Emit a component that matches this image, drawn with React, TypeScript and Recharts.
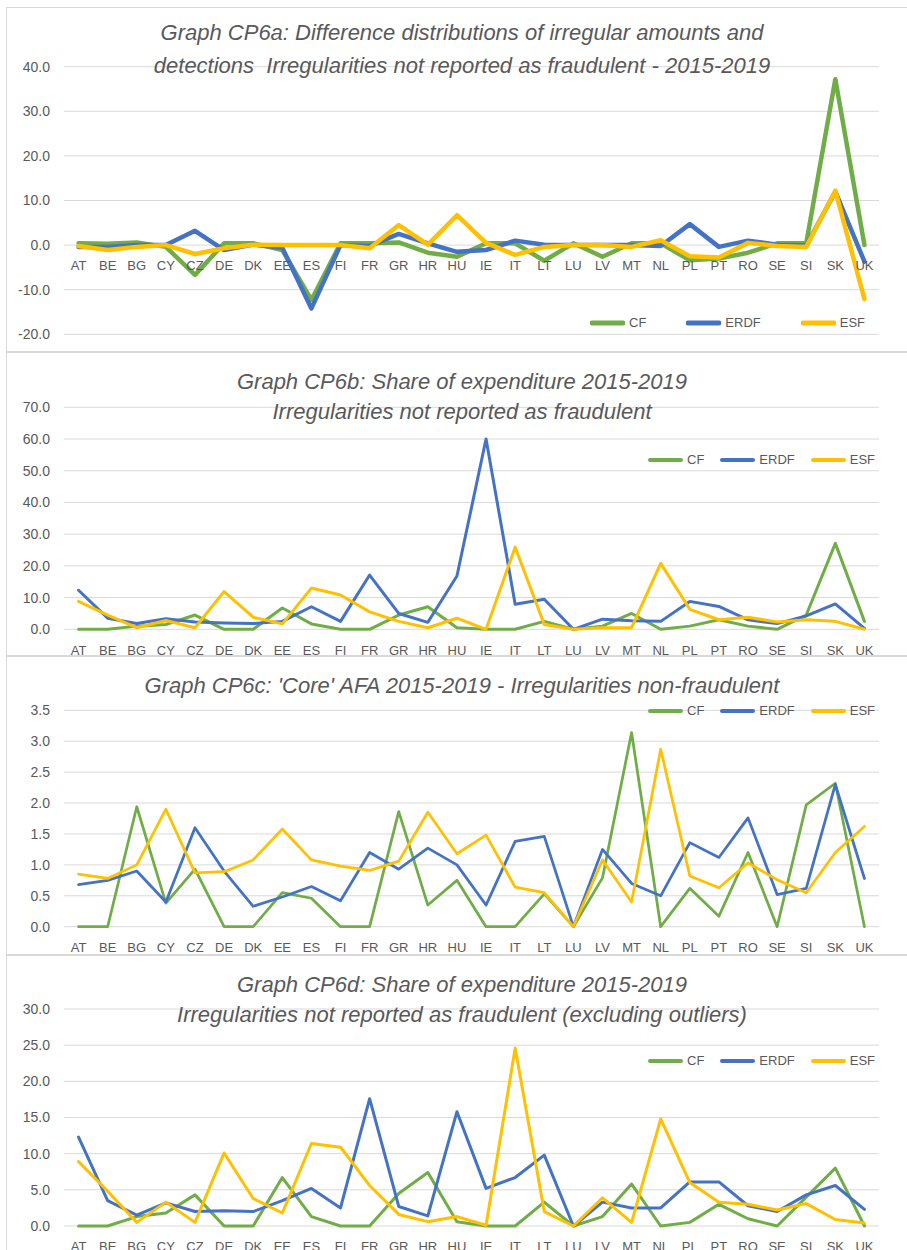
import React from 'react';
import { LineChart, Line, XAxis, YAxis, CartesianGrid, Legend } from 'recharts';

const FONT = '"Liberation Sans", Arial, sans-serif';
const TEXT = '#595959';
const GRID = '#d9d9d9';
const COLORS = { CF: '#70AD47', ERDF: '#4472C4', ESF: '#FFC000' };

const countries = ['AT', 'BE', 'BG', 'CY', 'CZ', 'DE', 'DK', 'EE', 'ES', 'FI', 'FR', 'GR', 'HR', 'HU', 'IE', 'IT', 'LT', 'LU', 'LV', 'MT', 'NL', 'PL', 'PT', 'RO', 'SE', 'SI', 'SK', 'UK'];

// Graph CP6a
const cp6aCF = [0.4, 0.3, 0.6, -0.4, -6.7, 0.4, 0.4, -1.1, -12.3, 0.4, 0.4, 0.6, -1.7, -2.6, 0.4, 0.4, -3.5, 0.4, -2.6, 0.4, 0.4, -3.4, -3.0, -1.7, 0.4, 0.4, 37.2, 0];
const cp6aERDF = [-0.4, -0.4, 0, 0, 3.2, -1.1, 0.1, -0.6, -14.2, 0, -0.2, 2.5, 0.4, -1.5, -1.1, 1.0, 0.1, 0, 0, 0, -0.2, 4.7, -0.4, 1.0, 0.1, -0.1, 12.0, -3.7];
const cp6aESF = [-0.2, -1.1, -0.4, 0, -2.0, -0.7, 0.1, 0, 0, 0, -0.7, 4.5, 0.1, 6.7, 0.5, -2.2, -0.4, 0, 0, -0.4, 1.1, -2.5, -2.8, 0.5, -0.2, -0.4, 12.2, -12.1];

// Graph CP6b
const cp6bCF = [0, 0, 1.0, 1.5, 4.5, 0, 0, 6.7, 1.7, 0, 0, 4.5, 7.1, 0.5, 0, 0, 2.5, 0, 1.0, 5.0, 0, 1.0, 3.0, 1.0, 0, 4.5, 27.1, 2.5];
const cp6bERDF = [12.3, 3.5, 1.8, 3.3, 2.3, 2.0, 1.8, 2.5, 7.1, 2.5, 17.1, 5.0, 2.2, 16.8, 60.0, 7.9, 9.5, 0, 3.2, 2.7, 2.5, 8.8, 7.2, 3.0, 1.8, 4.2, 8.0, 0.3];
const cp6bESF = [8.8, 4.5, 0.5, 2.8, 0.5, 11.9, 3.8, 1.7, 13.0, 10.8, 5.5, 2.5, 0.5, 3.5, 0, 25.9, 1.5, 0, 0.5, 0.5, 20.8, 6.3, 3.0, 3.8, 2.3, 3.0, 2.5, 0];

// Graph CP6c
const cp6cCF = [0, 0, 1.94, 0.38, 0.93, 0, 0, 0.55, 0.46, 0, 0, 1.86, 0.35, 0.75, 0, 0, 0.53, 0, 0.79, 3.14, 0, 0.62, 0.17, 1.2, 0, 1.97, 2.32, 0];
const cp6cERDF = [0.68, 0.75, 0.9, 0.4, 1.6, 0.9, 0.33, 0.48, 0.65, 0.42, 1.2, 0.93, 1.27, 1.0, 0.35, 1.38, 1.46, 0, 1.25, 0.7, 0.5, 1.36, 1.12, 1.76, 0.52, 0.62, 2.3, 0.78];
const cp6cESF = [0.85, 0.78, 1.0, 1.9, 0.87, 0.89, 1.08, 1.58, 1.08, 0.98, 0.91, 1.06, 1.85, 1.18, 1.48, 0.64, 0.55, 0, 1.08, 0.4, 2.87, 0.82, 0.63, 1.03, 0.76, 0.55, 1.2, 1.62];

// Graph CP6d
const cp6dCF = [0, 0, 1.3, 1.8, 4.3, 0, 0, 6.7, 1.3, 0, 0, 4.5, 7.4, 0.6, 0, 0, 3.3, 0, 1.3, 5.8, 0, 0.5, 3.0, 1.0, 0, 4.0, 8.0, 0];
const cp6dERDF = [12.3, 3.5, 1.5, 3.2, 2.0, 2.1, 2.0, 3.5, 5.2, 2.5, 17.6, 2.7, 1.4, 15.8, 5.2, 6.7, 9.8, 0, 3.3, 2.5, 2.5, 6.1, 6.1, 2.8, 2.0, 4.3, 5.6, 2.3];
const cp6dESF = [8.9, 4.8, 0.5, 3.3, 0.5, 10.1, 3.8, 1.8, 11.4, 10.9, 5.6, 1.6, 0.6, 1.3, 0.1, 24.6, 2.0, 0, 3.9, 0.5, 14.8, 6.0, 3.3, 3.0, 2.2, 3.1, 0.9, 0.4];

const ticksA = [-20, -10, 0, 10, 20, 30, 40];
const ticksB = [0, 10, 20, 30, 40, 50, 60, 70];
const ticksC = [0, 0.5, 1.0, 1.5, 2.0, 2.5, 3.0, 3.5];
const ticksD = [0, 5, 10, 15, 20, 25, 30];

const titleA = ['Graph CP6a: Difference distributions of irregular amounts and', 'detections  Irregularities not reported as fraudulent - 2015-2019'];
const titleB = ['Graph CP6b: Share of expenditure 2015-2019', 'Irregularities not reported as fraudulent'];
const titleC = ["Graph CP6c: 'Core' AFA 2015-2019 - Irregularities non-fraudulent"];
const titleD = ['Graph CP6d: Share of expenditure 2015-2019', 'Irregularities not reported as fraudulent (excluding outliers)'];

const build = (cf: number[], erdf: number[], esf: number[]) =>
  countries.map((c, i) => ({ country: c, CF: cf[i], ERDF: erdf[i], ESF: esf[i] }));

const W = 907;
const PLOT_LEFT = 64;
const PLOT_RIGHT = 879;
const PAD = (PLOT_RIGHT - PLOT_LEFT) / countries.length / 2;

type Cfg = {
  top: number;
  height: number;
  plotTop: number;
  plotBottom: number;
  xh: number;
  data: any[];
  ticks: number[];
  lw: number;
  legendLeft: number;
  legendCenter: number;
  legendGap: number;
  legendThick: number;
  xAtZero?: boolean;
};

const makeLegend = (gap: number, thick: number) => (props: any) => {
  const items = props.payload || [];
  return (
    <div style={{ display: 'flex', alignItems: 'center', fontFamily: FONT, fontSize: 13, color: TEXT, whiteSpace: 'nowrap', height: 16 }}>
      {items.map((it: any, i: number) => (
        <div key={i} style={{ display: 'flex', alignItems: 'center', marginLeft: i ? gap : 0 }}>
          <svg width={35} height={8} style={{ display: 'block' }}>
            <line x1={2} y1={4} x2={33} y2={4} stroke={it.color} strokeWidth={thick} strokeLinecap="round" />
          </svg>
          <span style={{ marginLeft: 4, lineHeight: '16px' }}>{it.value}</span>
        </div>
      ))}
    </div>
  );
};

function Chart({ cfg }: { cfg: Cfg }) {
  const mt = cfg.plotTop - cfg.top;
  const ph = cfg.plotBottom - cfg.plotTop;
  const mb = cfg.height - mt - ph - cfg.xh;
  const min = cfg.ticks[0];
  const max = cfg.ticks[cfg.ticks.length - 1];
  const zeroY = mt + ((max - 0) / (max - min)) * ph;
  const tickStyle = { fontSize: 13, fill: TEXT, fontFamily: FONT };
  const zeroTick = (props: any) => (
    <text x={props.x} y={zeroY + 25} textAnchor="middle" fontSize={13} fill={TEXT} fontFamily={FONT}>
      {props.payload.value}
    </text>
  );
  return (
    <div style={{ position: 'absolute', left: 0, top: cfg.top, width: W, height: cfg.height }}>
      <LineChart width={W} height={cfg.height} data={cfg.data} margin={{ top: mt, right: W - PLOT_RIGHT, bottom: mb, left: 0 }}>
        <CartesianGrid vertical={false} stroke={GRID} strokeWidth={1} />
        <XAxis
          dataKey="country"
          interval={0}
          axisLine={false}
          tickLine={false}
          tickSize={0}
          tickMargin={16}
          height={cfg.xh}
          padding={{ left: PAD, right: PAD }}
          tick={cfg.xAtZero ? zeroTick : tickStyle}
        />
        <YAxis
          type="number"
          domain={[min, max]}
          ticks={cfg.ticks}
          interval={0}
          width={PLOT_LEFT}
          axisLine={false}
          tickLine={false}
          tickSize={0}
          tickMargin={14}
          tick={{ fontSize: 14, fill: TEXT, fontFamily: FONT }}
          tickFormatter={(v: number) => v.toFixed(1)}
        />
        <Legend
          layout="horizontal"
          verticalAlign="middle"
          align="center"
          content={makeLegend(cfg.legendGap, cfg.legendThick)}
          wrapperStyle={{ left: cfg.legendLeft, top: cfg.legendCenter - cfg.top - 8, width: 280, height: 16 }}
        />
        {(['CF', 'ERDF', 'ESF'] as const).map((k) => (
          <Line
            key={k}
            type="linear"
            dataKey={k}
            name={k}
            stroke={COLORS[k]}
            strokeWidth={cfg.lw}
            strokeLinejoin="round"
            strokeLinecap="round"
            dot={false}
            activeDot={false}
            isAnimationActive={false}
          />
        ))}
      </LineChart>
    </div>
  );
}

const cfgs: Cfg[] = [
  { top: 7, height: 345, plotTop: 66.7, plotBottom: 334.3, xh: 10, data: build(cp6aCF, cp6aERDF, cp6aESF), ticks: ticksA, lw: 4.5, legendLeft: 590, legendCenter: 323.3, legendGap: 40, legendThick: 5, xAtZero: true },
  { top: 352, height: 316, plotTop: 407.3, plotBottom: 629.3, xh: 34, data: build(cp6bCF, cp6bERDF, cp6bESF), ticks: ticksB, lw: 3, legendLeft: 648, legendCenter: 460, legendGap: 16, legendThick: 4 },
  { top: 656, height: 310, plotTop: 710.3, plotBottom: 926.7, xh: 34, data: build(cp6cCF, cp6cERDF, cp6cESF), ticks: ticksC, lw: 2.75, legendLeft: 648, legendCenter: 711, legendGap: 16, legendThick: 4 },
  { top: 955, height: 295, plotTop: 1009, plotBottom: 1226, xh: 24, data: build(cp6dCF, cp6dERDF, cp6dESF), ticks: ticksD, lw: 3, legendLeft: 648, legendCenter: 1060.7, legendGap: 16, legendThick: 4 },
];

const titles: { lines: string[]; baselines: number[] }[] = [
  { lines: titleA, baselines: [40, 72.5] },
  { lines: titleB, baselines: [389, 419] },
  { lines: titleC, baselines: [692.7] },
  { lines: titleD, baselines: [991.7, 1021.7] },
];

const panels = [
  [7, 352],
  [352, 656],
  [656, 955],
  [955, 1270],
];

export default function App() {
  return (
    <div style={{ position: 'absolute', left: 0, top: 0, width: W, height: 1250, overflow: 'hidden', background: '#fff' }}>
      {panels.map(([t, b], i) => (
        <div key={i} style={{ position: 'absolute', left: 6, top: t, width: W, height: b - t, border: `1px solid ${GRID}`, boxSizing: 'border-box' }} />
      ))}
      {cfgs.map((c, i) => (
        <Chart key={i} cfg={c} />
      ))}
      <svg width={W} height={1250} style={{ position: 'absolute', left: 0, top: 0, pointerEvents: 'none' }}>
        {titles.map((t, i) =>
          t.lines.map((line, j) => (
            <text key={`${i}-${j}`} x={462} y={t.baselines[j]} textAnchor="middle" fontFamily={FONT} fontStyle="italic" fontSize={22} fill={TEXT} style={{ whiteSpace: 'pre' }}>
              {line}
            </text>
          ))
        )}
      </svg>
    </div>
  );
}
